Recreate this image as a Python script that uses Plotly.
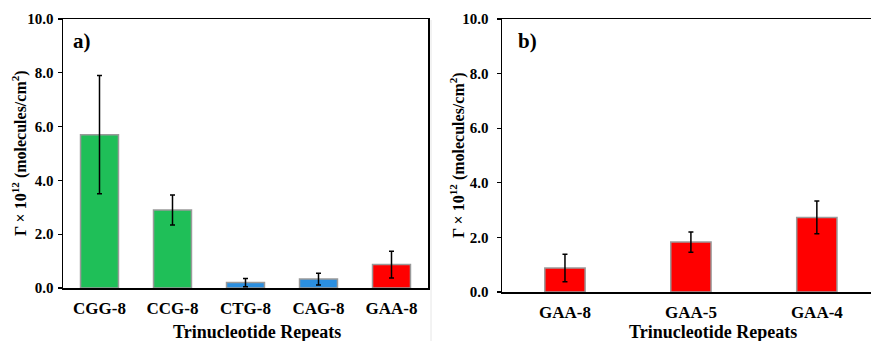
import plotly.graph_objects as go

W, H = 871, 341

cats_a = ["CGG-8", "CCG-8", "CTG-8", "CAG-8", "GAA-8"]
vals_a = [5.70, 2.90, 0.20, 0.33, 0.87]
errs_a = [2.20, 0.56, 0.15, 0.22, 0.50]
cols_a = ["#1fbf58", "#1fbf58", "#2b8fe0", "#2b8fe0", "#ff0000"]

cats_b = ["GAA-8", "GAA-5", "GAA-4"]
vals_b = [0.88, 1.83, 2.73]
errs_b = [0.50, 0.37, 0.60]
cols_b = ["#ff0000", "#ff0000", "#ff0000"]

yticks = [0, 2, 4, 6, 8, 10]
yticktext = ["0.0", "2.0", "4.0", "6.0", "8.0", "10.0"]

FONT = "Liberation Serif, serif"

def px_x(p):
    return p / W

def px_y(p):
    return (H - p) / H

def bold(lst):
    return ["<b>" + s + "</b>" for s in lst]

fig = go.Figure()
fig.add_trace(go.Bar(
    x=list(range(len(cats_a))), y=vals_a, width=0.52,
    marker=dict(color=cols_a, line=dict(color="#9a9a9a", width=1.5)),
    error_y=dict(type="data", array=errs_a, color="black", thickness=1.5, width=2.5),
    xaxis="x", yaxis="y", showlegend=False))
fig.add_trace(go.Bar(
    x=list(range(len(cats_b))), y=vals_b, width=0.32,
    marker=dict(color=cols_b, line=dict(color="#9a9a9a", width=1.5)),
    error_y=dict(type="data", array=errs_b, color="black", thickness=1.5, width=2.5),
    xaxis="x2", yaxis="y2", showlegend=False))

tickfont = dict(family=FONT, size=17, color="black")
ytickfont = dict(family=FONT, size=15, color="black")

common_x = dict(showline=True, linecolor="black", linewidth=1.5, automargin=False,
                ticks="", showgrid=False, zeroline=False, tickfont=tickfont,
                ticklabelstandoff=4)
common_y = dict(range=[0, 10], tickvals=yticks, ticktext=bold(yticktext), showline=True,
                linecolor="black", linewidth=1.5, ticks="outside", ticklen=4, automargin=False,
                tickcolor="black", tickwidth=1.2, showgrid=False, zeroline=False,
                tickfont=ytickfont)

fig.update_layout(
    width=W, height=H,
    margin=dict(l=0, r=0, t=0, b=0),
    paper_bgcolor="white", plot_bgcolor="white",
    font=dict(family=FONT, color="black"),
    xaxis=dict(common_x, domain=[px_x(63), px_x(428)], anchor="y", mirror=True,
               range=[-0.5, 4.5], tickvals=list(range(len(cats_a))), ticktext=bold(cats_a)),
    yaxis=dict(common_y, domain=[px_y(288), px_y(19)], anchor="x", mirror=True,
               ticklabelstandoff=1),
    xaxis2=dict(common_x, domain=[px_x(502), 1.0], anchor="y2", mirror=True,
                range=[-0.5, 2.43], tickvals=list(range(len(cats_b))), ticktext=bold(cats_b)),
    yaxis2=dict(common_y, domain=[px_y(292), px_y(19)], anchor="x2", mirror=False,
                ticklabelstandoff=5),
)

ann_font_title = dict(family=FONT, size=18, color="black")
ann_font_y = dict(family=FONT, size=16, color="black")
ann_font_lbl = dict(family=FONT, size=21, color="black")

annotations = [
    dict(text="<b>Trinucleotide Repeats</b>", x=px_x(257), y=px_y(332), xref="paper", yref="paper",
         showarrow=False, font=ann_font_title, xanchor="center", yanchor="middle"),
    dict(text="<b>Trinucleotide Repeats</b>", x=px_x(713), y=px_y(332), xref="paper", yref="paper",
         showarrow=False, font=ann_font_title, xanchor="center", yanchor="middle"),
    dict(text="<b>Γ × 10<sup>12</sup> (molecules/cm<sup>2</sup>)</b>", x=px_x(19), y=px_y(153),
         xref="paper", yref="paper", showarrow=False, font=ann_font_y, textangle=-90,
         xanchor="center", yanchor="middle"),
    dict(text="<b>Γ × 10<sup>12</sup> (molecules/cm<sup>2</sup>)</b>", x=px_x(457), y=px_y(155),
         xref="paper", yref="paper", showarrow=False, font=ann_font_y, textangle=-90,
         xanchor="center", yanchor="middle"),
    dict(text="<b>a)</b>", x=px_x(81.5), y=px_y(41), xref="paper", yref="paper", showarrow=False,
         font=ann_font_lbl, xanchor="center", yanchor="middle"),
    dict(text="<b>b)</b>", x=px_x(527.5), y=px_y(41), xref="paper", yref="paper", showarrow=False,
         font=ann_font_lbl, xanchor="center", yanchor="middle"),
]
fig.update_layout(annotations=annotations)

fig.add_shape(type="line", xref="paper", yref="paper", x0=px_x(431), x1=px_x(431),
              y0=px_y(20), y1=0, line=dict(color="#e6e6e6", width=1))

fig.write_html(
    "out.html",
    config={"displayModeBar": False, "staticPlot": True},
    post_script="document.body.style.margin='0';document.body.style.padding='0';",
)
